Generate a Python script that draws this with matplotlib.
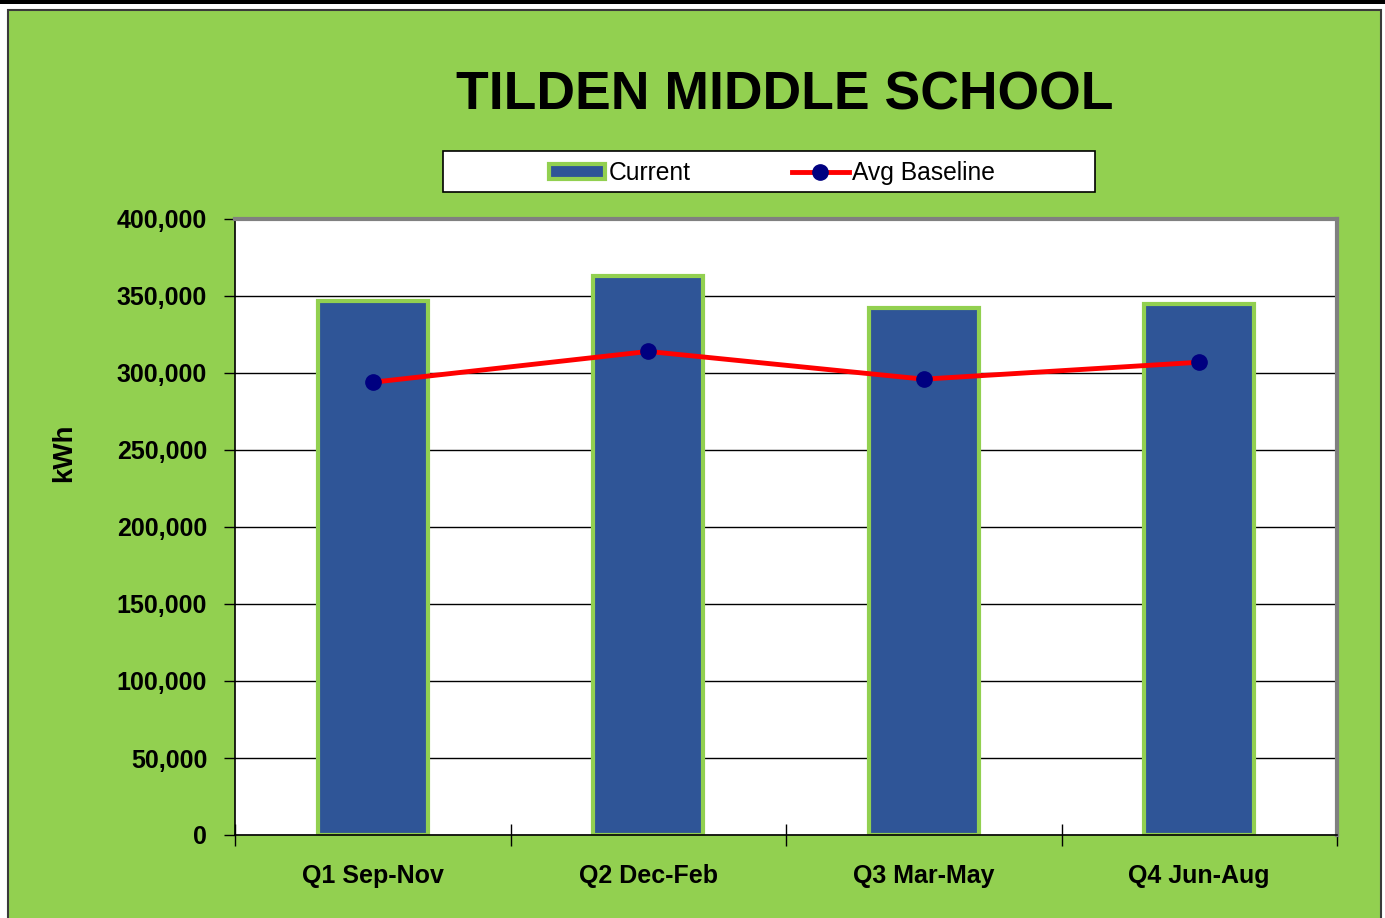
import numpy as np
import matplotlib.pyplot as plt
from matplotlib.patches import Rectangle
from matplotlib.lines import Line2D
from matplotlib.ticker import FuncFormatter, MultipleLocator

quarters = ["Q1 Sep-Nov", "Q2 Dec-Feb", "Q3 Mar-May", "Q4 Jun-Aug"]
current = [347000, 363000, 342500, 345000]
avg_baseline = [294000, 314000, 296000, 307000]

green = "#92D050"
navy_bar = "#2F5597"
sans = ["Liberation Sans", "DejaVu Sans"]

fig = plt.figure(figsize=(13.85, 9.18), dpi=100)
fig.patch.set_facecolor("white")

# page bits: black bar at top, green chart area with dark border
fig.add_artist(Rectangle((0, 1 - 3.5 / 918), 1, 3.5 / 918, transform=fig.transFigure,
                         facecolor="black", edgecolor="none", zorder=-2))
fig.add_artist(Rectangle((8 / 1385, -0.02), (1381 - 8) / 1385, 1.02 - 10 / 918,
                         transform=fig.transFigure, facecolor=green,
                         edgecolor="#3a3a3a", linewidth=1.5, zorder=-2))

ax = fig.add_axes([235 / 1385, 1 - 835 / 918, (1337 - 235) / 1385, (835 - 219) / 918])
ax.set_facecolor("white")

x = np.arange(len(quarters))
ax.bar(x, current, width=0.4, color=navy_bar, edgecolor=green, linewidth=3, zorder=2)
ax.plot(x, avg_baseline, color="red", linewidth=3.5, marker="o", markersize=11,
        markerfacecolor="#000080", markeredgecolor="#000080", zorder=3)

ax.set_xlim(-0.5, 3.5)
ax.set_ylim(0, 400000)
ax.yaxis.set_major_locator(MultipleLocator(50000))
ax.yaxis.set_major_formatter(FuncFormatter(lambda v, p: f"{int(v):,}"))
ax.grid(axis="y", color="black", linewidth=1, zorder=1)
ax.set_axisbelow(True)

ax.set_xticks(x)
ax.set_xticklabels(quarters)
ax.set_xticks(np.arange(-0.5, 4, 1), minor=True)
ax.tick_params(axis="x", which="major", length=0, pad=21)
ax.tick_params(axis="x", which="minor", direction="inout", length=16, width=1)
ax.tick_params(axis="y", direction="out", length=8, width=1, pad=12)
for lab in ax.get_xticklabels() + ax.get_yticklabels():
    lab.set_family(sans)
    lab.set_fontweight("bold")
    lab.set_fontsize(18)

for side in ["top", "right"]:
    ax.spines[side].set_color("#808080")
    ax.spines[side].set_linewidth(3)
for side in ["left", "bottom"]:
    ax.spines[side].set_color("black")
    ax.spines[side].set_linewidth(1.2)

fig.text(64 / 1385, 1 - 453 / 918, "kWh", rotation=90, ha="center", va="center",
         family=sans, fontweight="bold", fontsize=20)

fig.text(785 / 1385, 1 - 95 / 918, "TILDEN MIDDLE SCHOOL", ha="center", va="center",
         family=sans, fontweight="bold", fontsize=38.5)

# legend box
fig.add_artist(Rectangle((443 / 1385, 1 - 192 / 918), (1095 - 443) / 1385, 41 / 918,
                         transform=fig.transFigure, facecolor="white",
                         edgecolor="black", linewidth=1.2, zorder=2))
handles = [Rectangle((0, 0), 1, 1, facecolor=navy_bar, edgecolor=green, linewidth=3),
           Line2D([0], [0], color="red", linewidth=3.5, marker="o", markersize=11,
                  markerfacecolor="#000080", markeredgecolor="#000080")]
fig.legend(handles, ["Current", "Avg Baseline"], loc="center",
           bbox_to_anchor=(772 / 1385, 1 - 173 / 918), ncol=2, frameon=False,
           prop={"family": sans, "size": 17.7},
           handlelength=2.3, handletextpad=0.15, columnspacing=4.1,
           handleheight=0.6)

fig.savefig("out.png", dpi=100)
